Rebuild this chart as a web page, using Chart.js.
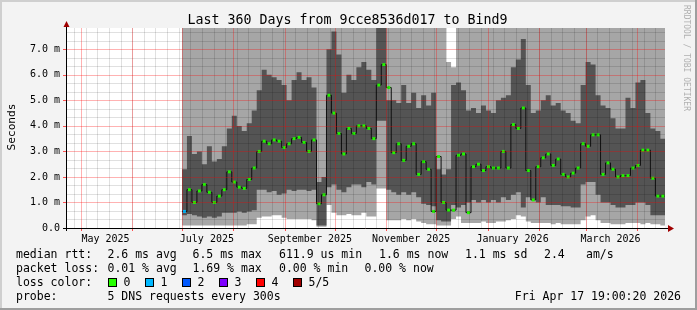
<!DOCTYPE html>
<html>
<head>
<meta charset="utf-8">
<script src="https://cdn.jsdelivr.net/npm/chart.js@4.4.1/dist/chart.umd.min.js"></script>
<style>
  html, body { margin: 0; padding: 0; background: #f3f3f3; }
  #caixa { width: 697px; height: 310px; }
</style>
</head>
<body>
<div id="caixa"><canvas id="grafico" width="697" height="310"></canvas></div>
<script>
// Amostras a cada 3 dias desde 1 jul 2025 (valores em ms)
const mediana = [
  0.65, 1.5, 1.0, 1.45, 1.7, 1.4, 1.0, 1.25, 1.5, 2.2, 1.8, 1.6, 1.55, 1.9, 2.35, 3.0, 3.4, 3.3, 3.45, 3.4, 3.15, 3.3, 3.5, 3.55,
  3.35, 3.0, 3.45, 0.95, 1.3, 5.2, 4.5, 3.7, 2.9, 3.9, 3.7, 4.0, 4.0, 3.9, 3.5, 5.6, 6.4, 5.5, 2.95, 3.3, 2.65, 3.2, 3.3, 2.1,
  2.6, 2.3, 0.65, 2.8, 1.0, 0.7, 0.7, 2.85, 2.9, 0.6, 2.4, 2.5, 2.25, 2.4, 2.35, 2.35, 3.0, 2.35, 4.05, 3.9, 4.7, 2.25, 1.1, 2.4,
  2.75, 2.9, 2.45, 2.7, 2.1, 2.0, 2.15, 2.35, 3.3, 3.2, 3.65, 3.65, 2.1, 2.55, 2.3, 2.0, 2.05, 2.05, 2.35, 2.45, 3.05, 3.05, 1.95, 1.25, 1.25
];
// topo da faixa escura
const alto = [
  2.3, 3.6, 2.9, 3.0, 2.5, 3.2, 2.6, 2.7, 3.2, 3.9, 4.4, 4.0, 3.8, 4.1, 4.6, 5.4, 6.2, 6.0, 5.9, 5.8, 5.6, 5.0, 5.8, 6.1,
  5.8, 5.9, 5.5, 1.8, 2.0, 7.0, 7.7, 6.8, 5.3, 6.0, 5.8, 6.3, 6.5, 6.2, 5.8, 7.9, 7.9, 5.0, 5.0, 4.9, 5.6, 4.9, 5.3, 4.7,
  5.2, 4.8, 5.3, 2.3, 2.1, 2.3, 5.6, 5.7, 5.4, 4.6, 4.7, 4.5, 4.8, 4.6, 4.5, 5.0, 5.1, 5.2, 6.3, 6.6, 7.4, 5.6, 4.5, 4.6,
  5.0, 5.2, 4.8, 4.9, 4.6, 4.5, 4.2, 4.1, 5.6, 6.5, 6.4, 5.2, 4.8, 4.7, 4.3, 3.9, 3.9, 5.1, 4.7, 5.7, 5.8, 4.5, 3.9, 3.8, 3.5
];
// base da faixa escura
const baixo = [
  0.5, 0.55, 0.5, 0.45, 0.4, 0.45, 0.4, 0.45, 0.6, 0.6, 0.6, 0.65, 0.6, 0.65, 0.7, 1.5, 1.5, 1.4, 1.45, 1.3, 1.35, 1.5, 1.45, 1.5,
  1.5, 1.45, 1.5, 0.1, 0.1, 1.6, 1.7, 1.5, 1.4, 1.6, 1.7, 1.7, 1.6, 1.8, 1.7, 4.2, 4.2, 1.5, 1.4, 1.3, 1.4, 1.3, 1.4, 1.2,
  0.95, 0.9, 0.85, 0.3, 0.25, 0.25, 0.9, 0.8, 0.9, 1.0, 1.1, 1.0, 1.1, 1.0, 1.1, 1.0, 1.2, 1.1, 1.3, 1.4, 0.8, 1.2, 1.1, 1.0,
  1.2, 0.9, 0.9, 0.9, 0.85, 0.85, 0.8, 0.8, 1.7, 1.8, 1.8, 1.3, 1.0, 1.0, 0.9, 0.8, 0.8, 0.9, 0.9, 1.0, 1.0, 0.9, 0.5, 0.5, 0.5
];
// ping mais lento (acima do topo = 7.9)
const maximo = [
  7.9, 7.9, 7.9, 7.9, 7.9, 7.9, 7.9, 7.9, 7.9, 7.9, 7.9, 7.9, 7.9, 7.9, 7.9, 7.9, 7.9, 7.9, 7.9, 7.9, 7.9, 7.9, 7.9, 7.9,
  7.9, 7.9, 7.9, 7.9, 7.9, 7.9, 7.9, 7.9, 7.9, 7.9, 7.9, 7.9, 7.9, 7.9, 7.9, 7.9, 7.9, 7.9, 7.9, 7.9, 7.9, 7.9, 7.9, 7.9,
  7.9, 7.9, 7.9, 7.9, 7.9, 6.5, 6.3, 7.9, 7.9, 7.9, 7.9, 7.9, 7.9, 7.9, 7.9, 7.9, 7.9, 7.9, 7.9, 7.9, 7.9, 7.9, 7.9, 7.9,
  7.9, 7.9, 7.9, 7.9, 7.9, 7.9, 7.9, 7.9, 7.9, 7.9, 7.9, 7.9, 7.9, 7.9, 7.9, 7.9, 7.9, 7.9, 7.9, 7.9, 7.9, 7.9, 7.9, 7.9, 7.9
];
// ping mais rapido
const minimo = [
  0.1, 0.1, 0.1, 0.1, 0.1, 0.1, 0.1, 0.1, 0.1, 0.1, 0.1, 0.1, 0.1, 0.15, 0.15, 0.4, 0.45, 0.45, 0.5, 0.5, 0.4, 0.35, 0.35, 0.35,
  0.35, 0.35, 0.3, 0.05, 0.05, 0.9, 0.6, 0.5, 0.5, 0.55, 0.5, 0.5, 0.6, 0.45, 0.45, 1.55, 1.55, 0.3, 0.3, 0.3, 0.35, 0.3, 0.35, 0.25,
  0.2, 0.15, 0.15, 0.1, 0.1, 0.1, 0.35, 0.45, 0.2, 0.2, 0.2, 0.2, 0.25, 0.2, 0.2, 0.25, 0.25, 0.3, 0.35, 0.5, 0.45, 0.25, 0.2, 0.2,
  0.2, 0.2, 0.15, 0.2, 0.15, 0.15, 0.15, 0.15, 0.3, 0.45, 0.5, 0.3, 0.2, 0.2, 0.15, 0.15, 0.15, 0.2, 0.2, 0.2, 0.15, 0.2, 0.15, 0.15, 0.1
];
// perda de pacotes por amostra (so a primeira teve 1 de 5)
const perdaInicial = 1;

const rotulosX = ['May 2025', 'July 2025', 'September 2025', 'November 2025', 'January 2026', 'March 2026'];
const datasRotulos = [[2025, 4, 16], [2025, 6, 16], [2025, 8, 16], [2025, 10, 16], [2026, 0, 16], [2026, 2, 16]];
const valoresY = [0, 1, 2, 3, 4, 5, 6, 7];
const rotulosY = ['0.0', '1.0 m', '2.0 m', '3.0 m', '4.0 m', '5.0 m', '6.0 m', '7.0 m'];

const linhas = [
  ['median rtt:', 16], ['2.6 ms avg', 107.5], ['6.5 ms max', 192.5], ['611.9 us min', 279],
  ['1.6 ms now', 379], ['1.1 ms sd', 465], ['2.4', 544], ['am/s', 586]
];
const linhasPerda = [
  ['packet loss:', 16], ['0.01 % avg', 107.5], ['1.69 % max', 192.5], ['0.00 % min', 279], ['0.00 % now', 364.5]
];
const coresPerda = [
  ['0', '#26ff00', 108], ['1', '#00b8ff', 145], ['2', '#0059ff', 182],
  ['3', '#7e00ff', 219], ['4', '#ff0000', 256], ['5/5', '#a10000', 293]
];

// eixo do tempo em dias desde o inicio da janela de 360 dias
const t0 = Date.UTC(2025, 3, 22, 19, 0, 20);
function dia(a, m, d) { return (Date.UTC(a, m, d) - t0) / 864e5; }
const inicio = dia(2025, 6, 1);
const passo = 3;
const yMax = 7.834;

function serie(vals) {
  const pts = vals.map((v, i) => ({ x: inicio + passo * (i + 0.5), y: v }));
  pts.unshift({ x: inicio, y: vals[0] });
  pts.push({ x: inicio + passo * vals.length, y: vals[vals.length - 1] });
  return pts;
}

const inicioMeses = [];
for (let m = 4; m < 16; m++) inicioMeses.push(dia(2025, m, 1));
const semanas = [];
for (let d = dia(2025, 3, 27); d < 360; d += 7) semanas.push(d);
const menoresY = [];
for (let k = 1; k < 24; k++) if (k % 3) menoresY.push(k / 3);

const mono = "'DejaVu Sans Mono', monospace";

// pixel vertical de um valor (via escala, com reserva pela area do grafico)
function pixelY(chart, v) {
  const p = chart.scales.y.getPixelForValue(v);
  if (isFinite(p)) return p;
  const a = chart.chartArea;
  return a.bottom - v / yMax * (a.bottom - a.top);
}

// grade por cima dos dados, como no rrdtool
const grade = {
  id: 'grade',
  afterDatasetsDraw(chart) {
    const { ctx, chartArea: a } = chart;
    const sx = chart.scales.x;
    ctx.save();
    ctx.lineWidth = 1;
    const traco = (x1, y1, x2, y2, cor) => {
      ctx.strokeStyle = cor;
      ctx.beginPath();
      ctx.moveTo(x1, y1);
      ctx.lineTo(x2, y2);
      ctx.stroke();
    };
    const menor = 'rgba(0, 0, 0, 0.12)';
    const maior = 'rgba(255, 0, 0, 0.3)';
    menoresY.forEach(v => {
      const py = Math.round(pixelY(chart, v)) + 0.5;
      traco(a.left, py, a.right, py, menor);
    });
    semanas.forEach(d => {
      const px = Math.round(sx.getPixelForValue(d)) + 0.5;
      traco(px, a.bottom, px, a.top, menor);
    });
    valoresY.forEach(v => {
      const py = Math.round(pixelY(chart, v)) + 0.5;
      traco(a.left, py, a.right, py, maior);
    });
    inicioMeses.forEach(d => {
      const px = Math.round(sx.getPixelForValue(d)) + 0.5;
      traco(px, a.bottom, px, a.top, maior);
    });
    ctx.restore();
  }
};

const moldura = {
  id: 'moldura',
  beforeDraw(chart) {
    const { ctx, chartArea: a, width: w, height: h } = chart;
    ctx.save();
    ctx.fillStyle = '#f3f3f3';
    ctx.fillRect(0, 0, w, h);
    ctx.fillStyle = '#cfcfcf';
    ctx.fillRect(0, 0, w, 2);
    ctx.fillRect(0, 0, 2, h);
    ctx.fillStyle = '#9e9e9e';
    ctx.fillRect(0, h - 2, w, 2);
    ctx.fillRect(w - 2, 0, 2, h);
    ctx.fillStyle = '#ffffff';
    ctx.fillRect(a.left, a.top, a.right - a.left, a.bottom - a.top);
    ctx.restore();
  },
  afterDraw(chart) {
    const { ctx, chartArea: a } = chart;
    const sx = chart.scales.x;
    ctx.save();
    // marcas dos meses e dos valores
    ctx.strokeStyle = '#ff5050';
    ctx.lineWidth = 1;
    inicioMeses.forEach(d => {
      const px = Math.round(sx.getPixelForValue(d)) + 0.5;
      ctx.beginPath(); ctx.moveTo(px, a.bottom + 1); ctx.lineTo(px, a.bottom + 3); ctx.stroke();
    });
    valoresY.forEach(v => {
      const py = Math.round(pixelY(chart, v)) + 0.5;
      ctx.beginPath(); ctx.moveTo(a.left - 4, py); ctx.lineTo(a.left - 1, py); ctx.stroke();
    });
    // eixos
    ctx.strokeStyle = '#000';
    ctx.beginPath();
    ctx.moveTo(a.left - 0.5, a.bottom + 3);
    ctx.lineTo(a.left - 0.5, a.top - 3);
    ctx.moveTo(a.left - 4, a.bottom + 0.5);
    ctx.lineTo(a.right + 3, a.bottom + 0.5);
    ctx.stroke();
    ctx.fillStyle = '#a00000';
    ctx.beginPath();
    ctx.moveTo(a.left - 3.5, a.top - 1); ctx.lineTo(a.left + 2.5, a.top - 1); ctx.lineTo(a.left - 0.5, a.top - 7);
    ctx.closePath(); ctx.fill();
    ctx.beginPath();
    ctx.moveTo(a.right + 3, a.bottom - 3); ctx.lineTo(a.right + 3, a.bottom + 4); ctx.lineTo(a.right + 9, a.bottom + 0.5);
    ctx.closePath(); ctx.fill();

    // titulo
    ctx.fillStyle = '#000';
    ctx.font = '13.3px ' + mono;
    ctx.textAlign = 'center';
    ctx.textBaseline = 'alphabetic';
    ctx.fillText('Last 360 Days from 9cce8536d017 to Bind9', 347.5, 24);

    // titulo do eixo y
    ctx.save();
    ctx.translate(15, 127);
    ctx.rotate(-Math.PI / 2);
    ctx.font = '11.2px ' + mono;
    ctx.fillText('Seconds', 0, 0);
    ctx.restore();

    // marca d'agua
    ctx.save();
    ctx.translate(684, 5);
    ctx.rotate(Math.PI / 2);
    ctx.font = '8px ' + mono;
    ctx.textAlign = 'left';
    ctx.fillStyle = '#b0b0b0';
    ctx.fillText('RRDTOOL / TOBI OETIKER', 0, 0);
    ctx.restore();

    // legenda
    ctx.font = '11.5px ' + mono;
    ctx.textAlign = 'left';
    ctx.fillStyle = '#000';
    linhas.forEach(([t, x]) => ctx.fillText(t, x, 258));
    linhasPerda.forEach(([t, x]) => ctx.fillText(t, x, 272));
    ctx.fillText('loss color:', 16, 286);
    coresPerda.forEach(([t, cor, x]) => {
      ctx.fillStyle = cor;
      ctx.fillRect(x, 278, 9, 9);
      ctx.strokeStyle = '#000';
      ctx.strokeRect(x + 0.5, 278.5, 8, 8);
      ctx.fillStyle = '#000';
      ctx.fillText(t, x + 15.5, 286);
    });
    ctx.fillText('probe:', 16, 300);
    ctx.fillText('5 DNS requests every 300s', 107.5, 300);
    ctx.textAlign = 'right';
    ctx.fillText('Fri Apr 17 19:00:20 2026', 681, 300);
    ctx.restore();
  }
};

new Chart(document.getElementById('grafico').getContext('2d'), {
  type: 'line',
  data: {
    datasets: [
      {
        data: serie(mediana), borderColor: '#101010', borderWidth: 1, stepped: 'middle', fill: false,
        pointStyle: 'rect', pointBorderWidth: 0,
        pointBackgroundColor: c => (c.dataIndex === 1 && perdaInicial === 1) ? coresPerda[1][1] : '#22f500',
        pointRadius: c => (c.dataIndex === 0 || c.dataIndex > mediana.length) ? 0 : 2.1
      },
      { data: serie(alto), borderColor: 'rgba(0,0,0,0)', borderWidth: 0, pointRadius: 0, stepped: 'middle', fill: '+1', backgroundColor: '#545454' },
      { data: serie(baixo), borderColor: 'rgba(0,0,0,0)', borderWidth: 0, pointRadius: 0, stepped: 'middle', fill: false },
      { data: serie(maximo), borderColor: 'rgba(0,0,0,0)', borderWidth: 0, pointRadius: 0, stepped: 'middle', fill: '+1', backgroundColor: '#a6a6a6' },
      { data: serie(minimo), borderColor: 'rgba(0,0,0,0)', borderWidth: 0, pointRadius: 0, stepped: 'middle', fill: false }
    ]
  },
  options: {
    responsive: false,
    animation: false,
    devicePixelRatio: 1,
    events: [],
    layout: { padding: { left: 0, right: 32, top: 28, bottom: 0 } },
    plugins: { legend: { display: false }, tooltip: { enabled: false } },
    scales: {
      x: {
        type: 'linear', min: 0, max: 360, position: 'bottom',
        grid: { display: false, drawTicks: false }, border: { display: false },
        ticks: {
          autoSkip: false, maxRotation: 0, padding: 5, color: '#000',
          font: { family: mono, size: 10 },
          callback: (v, i) => rotulosX[i]
        },
        afterBuildTicks: s => { s.ticks = datasRotulos.map(d => ({ value: dia(d[0], d[1], d[2]) })); },
        afterFit: s => { s.height = 82; }
      },
      y: {
        type: 'linear', min: 0, max: yMax, position: 'left',
        grid: { display: false, drawTicks: false }, border: { display: false },
        ticks: { padding: 7, color: '#000', font: { family: mono, size: 10 }, callback: (v, i) => rotulosY[i] },
        afterBuildTicks: s => { s.ticks = valoresY.map(v => ({ value: v })); },
        afterFit: s => { s.width = 67; }
      }
    }
  },
  plugins: [moldura, grade]
});
</script>
</body>
</html>
